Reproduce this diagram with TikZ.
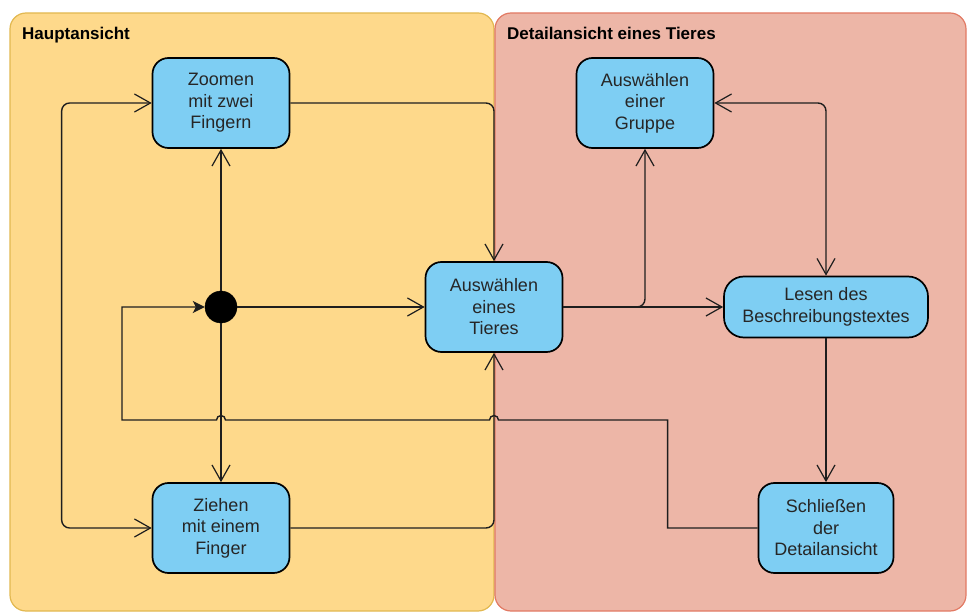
\documentclass[tikz,border=0pt]{standalone}
\usepackage{fontspec}
\setmainfont{Liberation Sans}
\usetikzlibrary{shapes,arrows.meta}
\definecolor{laneyellow}{RGB}{254,217,139}
\definecolor{laneyellowline}{RGB}{226,184,80}
\definecolor{lanered}{RGB}{237,182,167}
\definecolor{laneredline}{RGB}{226,122,100}
\definecolor{actblue}{RGB}{126,206,243}
\definecolor{wire}{RGB}{30,30,30}
\tikzstyle{lane} = [draw, rectangle, rounded corners=16pt, line width=1.2pt, minimum height=598pt]
\tikzstyle{lanetitle} = [anchor=base west, inner sep=0pt, font=\bfseries\fontsize{17}{20}\selectfont]
\tikzstyle{activity} = [draw, rectangle, rounded corners=16pt, fill=actblue, line width=1.7pt, align=center, text centered, minimum width=137pt, minimum height=90pt, font=\fontsize{18}{21.5}\selectfont, text=black!85]
\tikzstyle{startdot} = [draw, circle, fill=black, minimum size=32pt, inner sep=0pt]
\tikzstyle{line} = [draw=wire, line width=1.4pt, ->, rounded corners=8pt]
\tikzstyle{twoway} = [line, <->]

\begin{document}
\begin{tikzpicture}[x=1pt, y=1pt, node distance=204pt,
    >={Straight Barb[length=16pt,width=18pt,line width=1.2pt]}]
        \useasboundingbox (0,0) rectangle (967,-612);
        % swimlanes
        \node[lane, fill=laneyellow, draw=laneyellowline, minimum width=484pt] (haupt) at (252,-312) {};
        \node[lane, fill=lanered, draw=laneredline, minimum width=471pt] (detail) at (730.5,-312) {};
        \node[lanetitle] (hauptlabel) at (22,-40) {Hauptansicht};
        \node[lanetitle] (detaillabel) at (507,-40) {Detailansicht eines Tieres};
        % activities
        \node[startdot] (dot) at (221,-307) {};
        \node[activity, above of=dot] (zoom) {Zoomen\\mit zwei\\Fingern};
        \node[activity, below of=dot, node distance=221pt] (ziehen) {Ziehen\\mit einem\\Finger};
        \node[activity, right of=dot, node distance=273pt] (tier) {Auswählen\\eines\\Tieres};
        \node[activity, right of=zoom, node distance=424pt] (gruppe) {Auswählen\\einer\\Gruppe};
        \node[activity, right of=tier, node distance=332pt, minimum width=204pt, minimum height=61pt, rounded corners=20pt] (lesen) {Lesen des\\Beschreibungstextes};
        \node[activity, below of=lesen, node distance=221pt, minimum width=135pt] (schliessen) {Schließen\\der\\Detailansicht};
        % transitions
        \path[line] (dot) -- (zoom);
        \path[line] (dot) -- (ziehen);
        \path[line] (dot) -- (tier);
        \path[line] (zoom.east) -| (tier.north);
        \path[line] (ziehen.east) -| (tier.south);
        \path[twoway] (zoom.west) -- ++(-90,0) |- (ziehen.west);
        \path[line] (tier.east) -| (gruppe.south);
        \path[line] (tier) -- (lesen);
        \path[twoway] (gruppe.east) -| (lesen.north);
        \path[line] (lesen) -- (schliessen);
        \path[line, sharp corners, -{Stealth[length=12pt,width=12pt,inset=3pt]}] (schliessen.west) -- ++(-90,0) -- ++(0,108)
            -- (498.5,-420) arc[start angle=0, end angle=180, radius=4.5pt]
            -- (225.5,-420) arc[start angle=0, end angle=180, radius=4.5pt]
            -- (122,-420) |- (dot);
    \end{tikzpicture}
\end{document}
